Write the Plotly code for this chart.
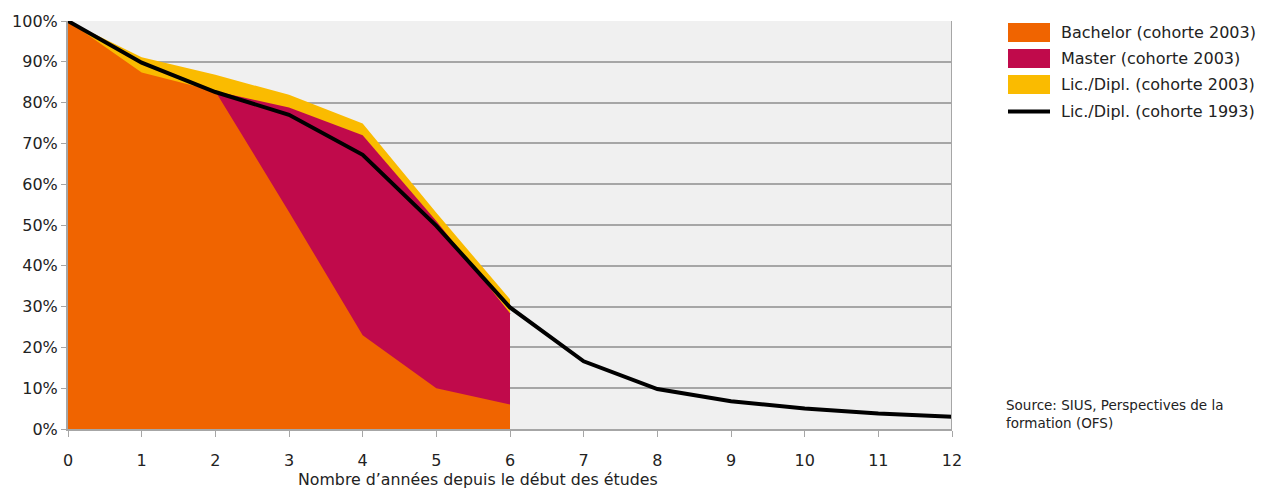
import plotly.graph_objects as go

years_2003 = [0, 1, 2, 3, 4, 5, 6]
bachelor_2003 = [100, 87.4, 82.8, 53.2, 23.0, 10.0, 6.0]
master_years = [2, 3, 4, 5, 6]
master_2003 = [82.8, 78.8, 72.0, 51.0, 28.4]
licdipl_2003 = [100, 91.1, 86.8, 81.9, 74.9, 53.0, 31.8]
years_1993 = [0, 1, 2, 3, 4, 5, 6, 7, 8, 9, 10, 11, 12]
licdipl_1993 = [100, 89.8, 82.6, 77.0, 67.2, 49.8, 29.8, 16.6, 9.8, 6.8, 5.0, 3.8, 3.0]

names = ["Bachelor (cohorte 2003)", "Master (cohorte 2003)",
         "Lic./Dipl. (cohorte 2003)", "Lic./Dipl. (cohorte 1993)"]
c_bach = "#F06400"
c_mast = "#C00A4B"
c_lic = "#FABB00"
FONT = "DejaVu Sans"
TXT = "#222222"

W, H = 1262, 488
ML, MR, MT, MB = 68, 310, 21, 59
PW, PH = W - ML - MR, H - MT - MB


def px(xp):
    return (xp - ML) / PW


def py(yp):
    return (H - MB - yp) / PH


fig = go.Figure()
fig.add_trace(go.Scatter(x=years_2003, y=licdipl_2003, name=names[2], mode="lines",
                         line=dict(width=0, color=c_lic), fill="tozeroy",
                         fillcolor=c_lic, showlegend=False))
fig.add_trace(go.Scatter(x=master_years, y=master_2003, name=names[1], mode="lines",
                         line=dict(width=0, color=c_mast), fill="tozeroy",
                         fillcolor=c_mast, showlegend=False))
fig.add_trace(go.Scatter(x=years_2003, y=bachelor_2003, name=names[0], mode="lines",
                         line=dict(width=0, color=c_bach), fill="tozeroy",
                         fillcolor=c_bach, showlegend=False))
fig.add_trace(go.Scatter(x=years_1993, y=licdipl_1993, name=names[3], mode="lines",
                         line=dict(width=4, color="black"), showlegend=False))

# manual legend
shapes = [dict(type="line", xref="x", yref="paper", x0=12, x1=12, y0=0, y1=1,
               line=dict(color="#A6A6A6", width=2))]
annotations = []
legend_colors = [c_bach, c_mast, c_lic]
row_centers = [32.5, 58.5, 84.5, 111.5]
for i, name in enumerate(names):
    yc = row_centers[i]
    if i < 3:
        shapes.append(dict(type="rect", xref="paper", yref="paper",
                           x0=px(1008), x1=px(1050), y0=py(yc + 9.5), y1=py(yc - 9.5),
                           fillcolor=legend_colors[i], line=dict(width=0)))
    else:
        shapes.append(dict(type="line", xref="paper", yref="paper",
                           x0=px(1008), x1=px(1050), y0=py(yc), y1=py(yc),
                           line=dict(color="black", width=4)))
    annotations.append(dict(text=name, xref="paper", yref="paper", x=px(1059), y=py(yc),
                            xanchor="left", yanchor="middle", showarrow=False,
                            font=dict(family=FONT, size=16, color=TXT)))

annotations.append(dict(text="Nombre d’années depuis le début des études", xref="paper",
                        yref="paper", x=px(478), y=py(479), xanchor="center",
                        yanchor="middle", showarrow=False,
                        font=dict(family=FONT, size=15.8, color=TXT)))
annotations.append(dict(text="Source: SIUS, Perspectives de la<br>formation (OFS)",
                        xref="paper", yref="paper", x=px(1004), y=py(414),
                        xanchor="left", yanchor="middle", align="left", showarrow=False,
                        font=dict(family=FONT, size=13.5, color=TXT)))

fig.update_layout(
    width=W, height=H,
    margin=dict(l=ML, r=MR, t=MT, b=MB),
    paper_bgcolor="white", plot_bgcolor="#F0F0F0",
    font=dict(family=FONT, size=16, color=TXT),
    showlegend=False,
    xaxis=dict(range=[0, 12], tickmode="linear", tick0=0, dtick=1,
               showgrid=False, zeroline=False, showline=True, linecolor="#A6A6A6",
               linewidth=2, ticks="outside", ticklen=6, tickcolor="#A6A6A6",
               ticklabelstandoff=10, tickfont=dict(size=16)),
    yaxis=dict(range=[0, 100], tickmode="linear", tick0=0, dtick=10, ticksuffix="%",
               showgrid=True, gridcolor="#A6A6A6", gridwidth=2, zeroline=False,
               showline=True, linecolor="#A6A6A6", linewidth=2,
               ticks="outside", ticklen=5, tickcolor="#A6A6A6",
               tickfont=dict(size=16)),
    annotations=annotations,
    shapes=shapes,
)

fig.write_html("out.html", config={"displayModeBar": False},
               post_script="document.body.style.margin='0';document.body.style.padding='0';")
